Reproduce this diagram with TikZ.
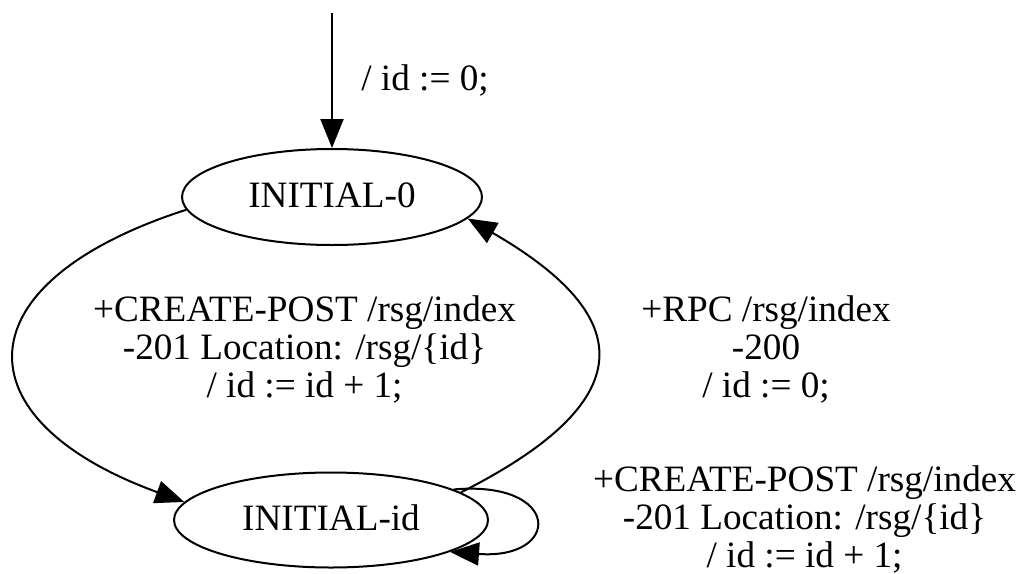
\documentclass[tikz,border=0pt]{standalone}
\usepackage{fontspec}
\setmainfont{Liberation Serif}
\usetikzlibrary{shapes.geometric,arrows.meta}
\begin{document}
\begin{tikzpicture}[x=1pt,y=-1pt,
  every node/.style={font=\fontsize{37.2pt}{38pt}\selectfont},
  state/.style={draw,ellipse,line width=2pt,inner sep=0pt,text height=26pt,text depth=5pt},
  lbl/.style={align=center,inner sep=0pt},
  edge/.style={line width=2pt,-{Triangle[length=29pt,width=23pt]}}]
\useasboundingbox (0,0) rectangle (1022,573);
\node[state,minimum width=300pt,minimum height=96pt] (i0) at (332,197) {INITIAL-0};
\node[state,minimum width=314pt,minimum height=95pt] (iid) at (331,520) {INITIAL-id};
\coordinate (start) at (332,13);
\node[lbl] (l0) at (425,80.6) {/ id := 0;};
\node[lbl] (l1) at (304.5,349.5) {+CREATE-POST /rsg/index\\-201 Location: /rsg/\{id\}\\/ id := id + 1;};
\node[lbl] (l2) at (766,349.5) {+RPC /rsg/index\\-200\\/ id := 0;};
\node[lbl] (l3) at (804.5,519.7) {+CREATE-POST /rsg/index\\-201 Location: /rsg/\{id\}\\/ id := id + 1;};
\draw[edge] (start) -- (i0.north);
\draw[edge] (i0.185) .. controls (-41,283) and (-41,420) .. (iid.173);
\draw[edge] (iid.12) .. controls (640,402) and (640,318) .. (i0.351);
\draw[edge] (iid.14) .. controls (562,480) and (562,560) .. (iid.345);
\end{tikzpicture}
\end{document}
